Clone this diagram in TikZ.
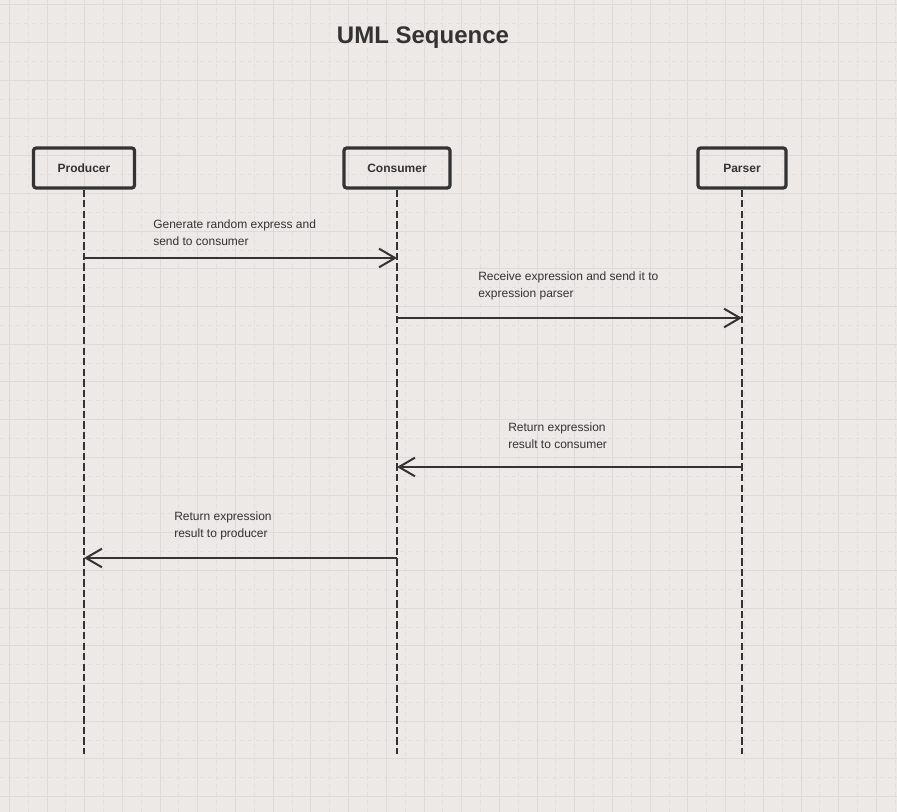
\documentclass[tikz,border=0pt]{standalone}
\usepackage{fontspec}
\setmainfont{Liberation Sans}
\usetikzlibrary{arrows.meta}
\definecolor{bg}{RGB}{236,233,230}
\definecolor{gridmaj}{RGB}{221,218,215}
\definecolor{gridmin}{RGB}{226,223,220}
\definecolor{ink}{RGB}{51,51,51}
\begin{document}
\begin{tikzpicture}[x=0.75pt,y=-0.75pt,
  head/.style={draw=ink, line width=2.4pt, rounded corners=2pt, minimum height=30pt,
    inner sep=0pt, font=\bfseries\fontsize{9}{11}\selectfont, text=ink},
  lifeline/.style={draw=ink, line width=1.6pt, dash pattern=on 5.5pt off 2.4pt},
  msg/.style={draw=ink, line width=1.5pt, -{Straight Barb[length=12pt,width=14pt,line width=1.5pt]}},
  lbl/.style={anchor=base west, inner sep=0pt, align=left, text=ink,
    font=\fontsize{9}{12.75}\selectfont}]
\useasboundingbox (0,0) rectangle (897,812);
\fill[bg] (0,0) rectangle (897,812);
% grid
\foreach \i in {0,...,24} {
  \draw[gridmin, line width=0.75pt, dash pattern=on 3pt off 3pt] ({9.3+37.7*\i+18.85},0) -- ({9.3+37.7*\i+18.85},812);
  \draw[gridmin, line width=0.75pt, dash pattern=on 3pt off 3pt] (0,{5+37.7*\i+18.85}) -- (897,{5+37.7*\i+18.85});
}
\foreach \i in {0,...,23} {
  \draw[gridmaj, line width=0.75pt] ({9.3+37.7*\i},0) -- ({9.3+37.7*\i},812);
  \draw[gridmaj, line width=0.75pt] (0,{5+37.7*\i}) -- (897,{5+37.7*\i});
}
% title
\node[anchor=base, inner sep=0pt, text=ink, font=\bfseries\fontsize{18}{22}\selectfont] (title) at (423,44) {UML Sequence};
% heads
\node[head, minimum width=75.75pt] (prod) at (84,168) {Producer};
\node[head, minimum width=79.5pt] (cons) at (397,168) {Consumer};
\node[head, minimum width=66pt] (pars) at (742,168) {Parser};
% lifeline ends
\coordinate (prodE) at (84,754);
\coordinate (consE) at (397,754);
\coordinate (parsE) at (742,754);
\draw[lifeline] (prod.south) -- (prodE);
\draw[lifeline] (cons.south) -- (consE);
\draw[lifeline] (pars.south) -- (parsE);
% message points
\coordinate (p1) at (84,258); \coordinate (c1) at (397,258);
\coordinate (c2) at (397,318); \coordinate (r2) at (742,318);
\coordinate (r3) at (742,467); \coordinate (c3) at (397,467);
\coordinate (c4) at (397,558); \coordinate (p4) at (84,558);
\draw[msg] (p1) -- (c1);
\draw[msg] (c2) -- (r2);
\draw[msg] (r3) -- (c3);
\draw[msg] (c4) -- (p4);
% labels (anchor = baseline of last line)
\node[lbl] (l1) at (153,246) {Generate random express and\\send to consumer};
\node[lbl] (l2) at (478,298) {Receive expression and send it to\\expression parser};
\node[lbl] (l3) at (508,449) {Return expression\\result to consumer};
\node[lbl] (l4) at (174,538) {Return expression\\result to producer};
\end{tikzpicture}
\end{document}
